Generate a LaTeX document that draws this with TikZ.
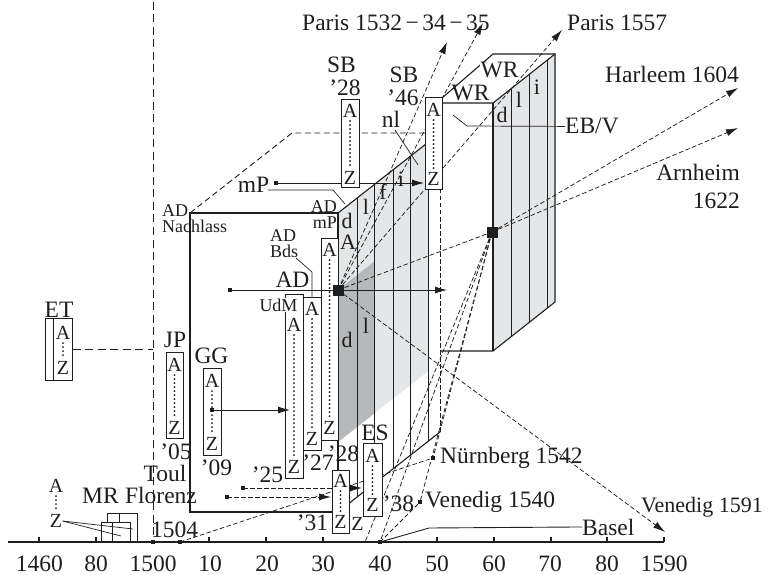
\documentclass[tikz,border=0pt]{standalone}
\usepackage{fontspec}
\setmainfont{Liberation Serif}
\usetikzlibrary{arrows.meta}
\definecolor{ink}{HTML}{1E1E1E}
\definecolor{lgray}{HTML}{E5E6E8}
\definecolor{mgray}{HTML}{B7B8BA}
\newcommand\fM{\fontsize{23.5}{25}\selectfont}
\newcommand\fS{\fontsize{18}{19}\selectfont}
\newcommand\fB{\fontsize{20}{21}\selectfont}
\newcommand\fT{\fontsize{22}{23}\selectfont}
\newcommand\AZdots[4]{%
  \node[azl] (#1a) at (#2,#3) {A};
  \node[azl] (#1z) at (#2,#4) {Z};
  \draw[dotl] (#1a.south) -- (#1z.north);}
\begin{document}
\begin{tikzpicture}[x=1pt,y=-1pt,
  ln/.style={draw=ink,line width=1.1pt},
  tn/.style={draw=ink,line width=0.7pt},
  dsh/.style={draw=ink,line width=0.75pt,dash pattern=on 4.5pt off 2.5pt},
  ldsh/.style={draw=ink,line width=0.9pt,dash pattern=on 8pt off 4.5pt},
  arr/.style={-{Latex[length=12pt,width=7pt]}},
  abox/.style={draw=ink,fill=white,line width=1pt,inner sep=0pt},
  azl/.style={font=\fB,text=ink,inner sep=0.3pt},
  dotl/.style={draw=ink,line width=2.2pt,dash pattern=on 0pt off 4pt,line cap=round,shorten <=3pt,shorten >=2pt},
  lbl/.style={font=\fM,text=ink,inner sep=0pt,anchor=base west},
  lblc/.style={font=\fM,text=ink,inner sep=0pt,anchor=base},
  sml/.style={font=\fS,text=ink,inner sep=0pt,anchor=base west},
  stl/.style={font=\fT,text=ink,inner sep=0pt},
  sq/.style={fill=ink,inner sep=0pt,minimum size=3.6pt},
  bsq/.style={fill=ink,inner sep=0pt,minimum size=11pt},
]
\useasboundingbox (0,0) rectangle (769,575);

% ---------- shaded side faces ----------
\fill[lgray] (338,213) -- (428,142.4) -- (428,371.4) -- (338,442) -- cycle;
\fill[mgray] (338,290) -- (374,261.8) -- (374,413.8) -- (338,442) -- cycle;
\fill[lgray] (493,103) -- (555,54) -- (555,302) -- (493,351) -- cycle;

% strips of the AD mP slab
\foreach \x in {357,374,393,410,428}
  \draw[ln,line width=0.9pt] (\x,{213-0.7843*(\x-338)}) -- (\x,{512-0.7843*(\x-338)});
% strips of the WR slab
\foreach \x in {511,529,547}
  \draw[ln,line width=0.9pt] (\x,{103-0.79*(\x-493)}) -- (\x,{351-0.79*(\x-493)});

% ---------- big box (AD Nachlass) ----------
\draw[ln] (190,213) rectangle (338,512);
\draw[ln] (338,213) -- (440,133);
\draw[ln] (338,512) -- (440,432);
\draw[dsh,dash pattern=on 6pt off 3.5pt,line width=0.9pt] (190,213) -- (292,133) -- (425,133);
\draw[dsh,line width=0.9pt] (440,133) -- (440,432);

% ---------- WR slab ----------
\draw[ln] (440,351) -- (493,351) -- (555,302) -- (555,54) -- (493,54) -- (442,98);
\draw[ln] (442,103) -- (493,103) -- (555,54);
\draw[ln] (493,103) -- (493,351);

% ---------- points ----------
\coordinate (pa) at (447,42);
\coordinate (pb) at (483,23);
\coordinate (pc) at (562,30);
\coordinate (hl) at (738,88);
\coordinate (an) at (738,128);
\coordinate (v91) at (665,532);
\coordinate (b35) at (365,542);
\coordinate (bas) at (429,528);
\coordinate (vtop) at (153,2);
\coordinate (s1c) at (338,290);
\coordinate (s2c) at (492,232);

\node[sq] (b00) at (153,542) {};
\node[sq] (b04) at (180,542) {};
\node[sq] (b40) at (380,542) {};
\node[sq] (nur) at (433,458) {};
\node[sq] (ven) at (420,502) {};
\node[sq] (adl) at (230,290) {};
\node[sq] (ggp) at (212,410) {};
\node[sq] (mpp) at (276,183) {};
\node[sq] (q25) at (243,488) {};
\node[sq] (qfl) at (227,497) {};

% ---------- radiating dashed lines ----------
\draw[dsh,arr] (s1c) -- (pa);
\draw[dsh,arr] (s1c) -- (pb);
\draw[dsh,arr] (s1c) -- (pc);
\draw[dsh,arr] (s1c) -- (v91);
\draw[dsh] (s1c) -- (s2c);
\draw[dsh,arr] (s2c) -- (hl);
\draw[dsh,arr] (s2c) -- (an);
\draw[dsh] (s2c) -- (b35);
\draw[dsh] (s2c) -- (b40.center);
\draw[dsh] (s2c) -- (ven.center);
\draw[dsh] (s2c) -- (nur.center);
\draw[dsh] (b40.center) -- (ven.center);
\draw[dsh] (b04.center) -- (nur.center);
\draw[dsh,arr] (q25.center) -- (362,488);
\draw[dsh,arr] (qfl.center) -- (331,497);
\draw[ln,line width=0.8pt,arr] (mpp.center) -- (424,183);

% dashed vertical 1500
\draw[ldsh] (vtop) -- (b00.center);

% ---------- A..Z boxes ----------
\node[abox,minimum width=27pt,minimum height=62pt] (et) at (58.5,349) {};
\draw[ln,line width=1pt] (53,318) -- (53,380);
\AZdots{et}{63}{333}{368}
\draw[ldsh] (et.east) -- (153,349);

\node[abox,minimum width=17pt,minimum height=86pt] (jp) at (174.5,395) {};
\AZdots{jp}{174.5}{365}{428}
\node[abox,minimum width=18pt,minimum height=87pt] (gg) at (212,411.5) {};
\AZdots{gg}{212}{381}{444}
\node[abox,minimum width=18pt,minimum height=184pt] (udm) at (294,386) {};
\AZdots{udm}{294}{325}{467}
\node[abox,minimum width=18pt,minimum height=153pt] (bds) at (312,373.5) {};
\AZdots{bds}{312}{309}{439}
\node[abox,minimum width=17pt,minimum height=202pt] (ad) at (329.5,339) {};
\AZdots{ad}{329.5}{250}{428}
\node[abox,minimum width=18pt,minimum height=88pt] (sbb) at (350,144) {};
\AZdots{sbb}{350}{111}{178}
\node[abox,minimum width=17pt,minimum height=92pt] (sbf) at (433.5,144) {};
\AZdots{sbf}{433.5}{110}{179}
\node[abox,minimum width=19pt,minimum height=73pt] (es) at (372.5,479.5) {};
\AZdots{es}{372.5}{456}{505}
\node[abox,minimum width=17pt,minimum height=63pt] (b31) at (340.5,501.5) {};
\AZdots{b31}{340.5}{481}{522}

% ---------- solid arrows on top ----------
\draw[ln,line width=0.8pt,arr] (adl.center) -- (447,290);
\draw[ln,line width=0.8pt,arr] (ggp.center) -- (290,410);
\node[bsq] (s1) at (s1c) {};
\node[bsq] (s2) at (s2c) {};
\node[sq] at (ggp) {};
\node[sq] at (adl) {};
\node[sq] at (mpp) {};

% Basel line
\node[lbl] (basel) at (582,535) {Basel};
\draw[ln,line width=0.9pt] (b40.center) -- (bas) -- (basel.west);

% ---------- leaders ----------
\node[lbl] (ebv) at (565,134) {EB/V};
\draw[tn] (453,115) -- (467,126) -- (ebv.west);
\node[lblc] (mpl) at (253.5,193) {mP};
\draw[tn] (268,190) -- (333,190) -- (345,204);
\draw[tn] (296,258) -- (312,272) -- (bds.north);
\node[lblc] (nl) at (391,128) {nl};
\draw[tn] (395,130) -- (418,165);

% ---------- MR ----------
\draw[ln,line width=1pt] (107,522) -- (107,513) -- (137,513) -- (137,542);
\draw[ln,line width=1pt] (119,513) -- (119,522);
\draw[ln,line width=1pt] (101,542) -- (101,522) -- (130,522) -- (130,542);
\draw[ln,line width=1pt] (112,522) -- (112,542);
\AZdots{mr}{56}{486}{521}
\draw[tn] (mrz.east) -- (133,529);
\draw[tn] (mrz.east) -- (121,536);

% ---------- labels ----------
\node[lbl] at (302,31) {Paris 1532\kern3.5pt−\kern3.5pt34\kern3.5pt−\kern3.5pt35};
\node[lbl] at (567,31) {Paris 1557};
\node[lbl] at (605,83) {Harleem 1604};
\node[lbl,anchor=base east] at (740,181) {Arnheim};
\node[lbl,anchor=base east] at (740,208) {1622};
\node[lblc] at (341.5,73) {SB};
\node[lblc] at (345,96) {’28};
\node[lblc] at (404,83) {SB};
\node[lblc] at (403,106) {’46};
\node[lblc,fill=white,inner sep=1pt] at (499.5,78) {WR};
\node[lblc] at (470.5,101) {WR};
\node[sml,anchor=base east] at (337,212) {AD};
\node[sml,anchor=base east] at (337,229) {mP};
\node[sml] at (162,216) {AD};
\node[sml] at (162,233) {Nachlass};
\node[sml] at (270,241) {AD};
\node[sml] at (270,258) {Bds};
\node[lblc] at (292.5,287) {AD};
\node[sml,anchor=base,fill=white,inner sep=1pt] at (278.5,311) {UdM};
\node[lblc] at (59,317) {ET};
\node[lblc] at (175,347) {JP};
\node[lblc] at (211.5,363) {GG};
\node[lblc] at (176,459) {’05};
\node[lblc] at (165,481) {Toul};
\node[lblc] at (161,503) {Florenz};
\node[lblc] at (216.5,475) {’09};
\node[lblc] at (267.5,482) {’25};
\node[lblc] at (318,470) {’27};
\node[lblc] at (343.5,461) {’28};
\node[lblc] at (375,440) {ES};
\node[lblc] at (312.5,530) {’31};
\node[azl,anchor=base] at (357.5,530) {Z};
\node[lblc] at (398.5,511) {’38};
\node[lbl] at (440,463) {Nürnberg 1542};
\node[lbl] at (425,507) {Venedig 1540};
\node[lbl,font=\fontsize{22}{23}\selectfont] at (641,512) {Venedig 1591};
\node[lblc] at (100.5,503) {MR};
\node[lblc] at (174.5,537) {1504};

% strip letters
\node[stl] at (347,221) {d};
\node[stl] at (366,207) {l};
\node[stl] at (383,192) {f};
\node[stl] at (401,179) {i};
\node[stl] at (348,242) {A};
\node[stl] at (347,340) {d};
\node[stl] at (366,326) {l};
\node[stl] at (502,115) {d};
\node[stl] at (519,100) {l};
\node[stl] at (537,87) {i};

% ---------- axis ----------
\draw[ln] (8,542) -- (664,542);
\foreach \x in {39,96,209,266,323,437,494,551,607,664}
  \draw[ln] (\x,542) -- (\x,537);
\node[sq] at (b00) {};
\node[sq] at (b04) {};
\node[sq] at (b40) {};
\foreach \x/\t in {39.5/1460,96/80,153/1500,210/10,267/20,323/30,380/40,437/50,494/60,550/70,607/80,664/1590}
  \node[lblc] at (\x,571) {\t};
\end{tikzpicture}
\end{document}
